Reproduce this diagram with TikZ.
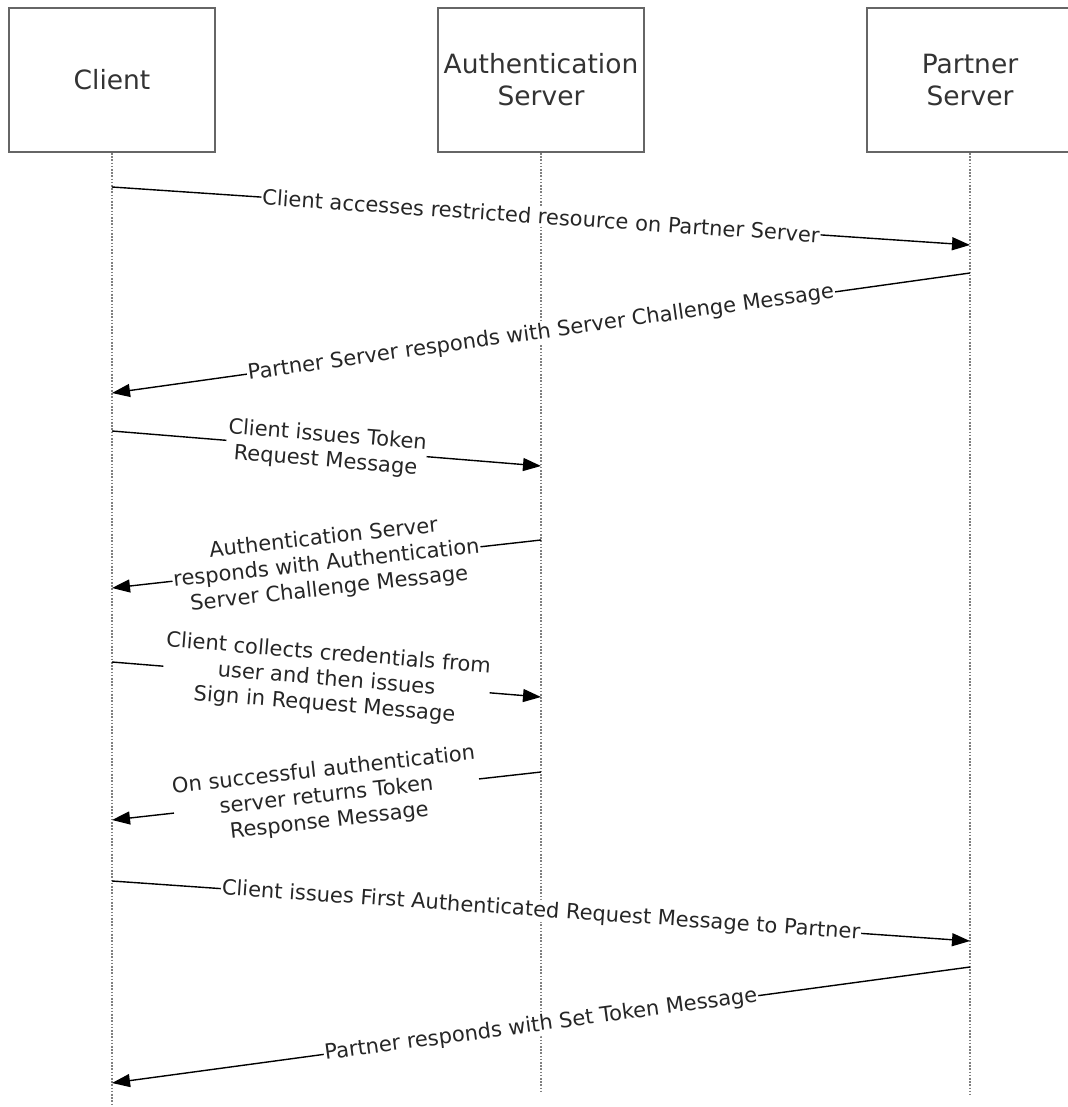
\documentclass[tikz,border=0pt]{standalone}
\usepackage{fontspec}
\setmainfont{DejaVu Sans}
\usetikzlibrary{arrows.meta}
\definecolor{boxgray}{HTML}{666666}
\definecolor{lifegray}{HTML}{808080}

\begin{document}
\begin{tikzpicture}[x=1pt,y=-1pt,
  actor/.style={draw=boxgray,line width=2.2pt,minimum width=206pt,minimum height=144pt,
    inner sep=0pt,align=center,text=black!80,font=\fontsize{26.5}{32}\selectfont},
  life/.style={draw=lifegray,line width=2pt,dash pattern=on 1.6pt off 1.6pt},
  msg/.style={line width=1.4pt,-{Triangle[length=18pt,width=13pt]}},
  lbl/.style={fill=white,sloped,midway,inner sep=1pt,align=center,
    text=black!85,font=\fontsize{21}{25.5}\selectfont}]
\useasboundingbox (0,0) rectangle (1067,1107);
% participants
\node[actor] (client) at (112,80) {Client};
\node[actor] (auth) at (541,80) {Authentication\\Server};
\node[actor] (partner) at (970,80) {Partner\\Server};
% lifelines
\draw[life] (client.south) -- (client.south |- 0,1107);
\draw[life] (auth.south) -- (auth.south |- 0,1092);
\draw[life] (partner.south) -- (partner.south |- 0,1095);
% message ends
\coordinate (c1) at (112,187);  \coordinate (p1) at (970,245);
\coordinate (p2) at (970,273);  \coordinate (c2) at (112,393);
\coordinate (c3) at (112,431);  \coordinate (a3) at (541,466);
\coordinate (a4) at (541,540);  \coordinate (c4) at (112,588);
\coordinate (c5) at (112,662);  \coordinate (a5) at (541,697);
\coordinate (a6) at (541,772);  \coordinate (c6) at (112,820);
\coordinate (c7) at (112,881);  \coordinate (p7) at (970,941);
\coordinate (p8) at (970,967);  \coordinate (c8) at (112,1083);
% messages
\draw[msg] (c1) -- node[lbl] {Client accesses restricted resource on Partner Server} (p1);
\draw[msg] (p2) -- node[lbl] {Partner Server responds with Server Challenge Message} (c2);
\draw[msg] (c3) -- node[lbl] {Client issues Token\\Request Message} (a3);
\draw[msg] (a4) -- node[lbl] {Authentication Server\\responds with Authentication\\Server Challenge Message} (c4);
\draw[msg] (c5) -- node[lbl] {Client collects credentials from\\user and then issues\\Sign in Request Message} (a5);
\draw[msg] (a6) -- node[lbl] {On successful authentication\\server returns Token\\Response Message} (c6);
\draw[msg] (c7) -- node[lbl] {Client issues First Authenticated Request Message to Partner} (p7);
\draw[msg] (p8) -- node[lbl] {Partner responds with Set Token Message} (c8);
\end{tikzpicture}
\end{document}
